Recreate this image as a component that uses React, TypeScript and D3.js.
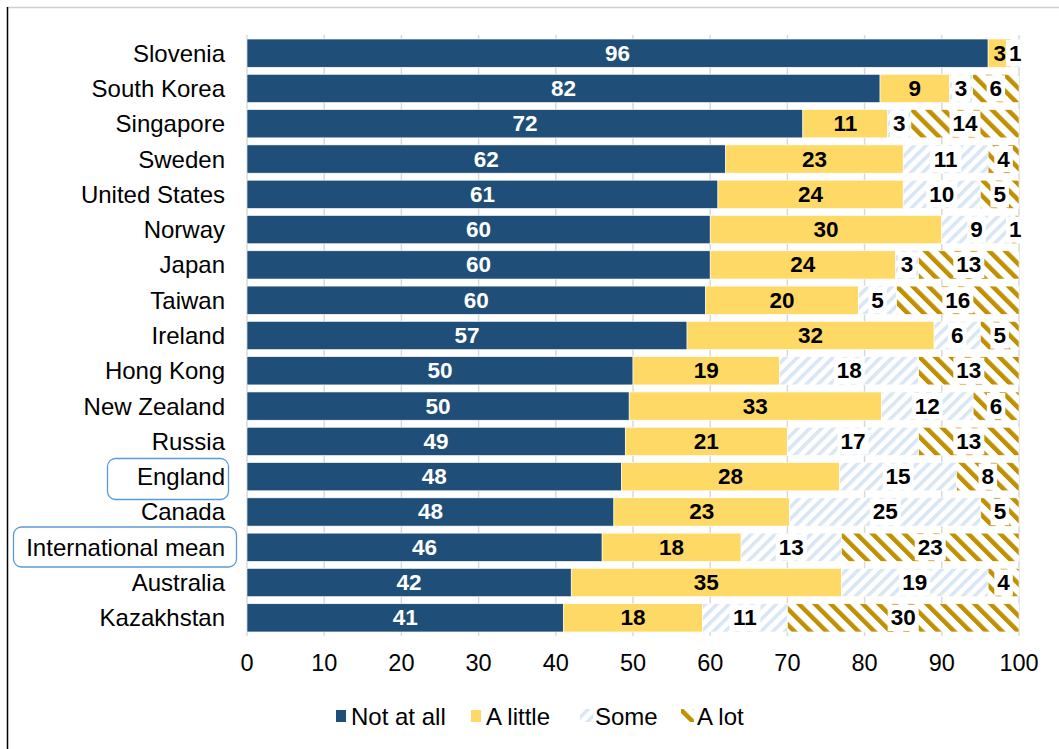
import React from "react";
import * as d3 from "d3";

const categories = [
  "Slovenia", "South Korea", "Singapore", "Sweden", "United States", "Norway", "Japan",
  "Taiwan", "Ireland", "Hong Kong", "New Zealand", "Russia", "England", "Canada",
  "International mean", "Australia", "Kazakhstan",
];
const notAtAll = [96, 82, 72, 62, 61, 60, 60, 60, 57, 50, 50, 49, 48, 48, 46, 42, 41];
const aLittle = [3, 9, 11, 23, 24, 30, 24, 20, 32, 19, 33, 21, 28, 23, 18, 35, 18];
const some = [1, 3, 3, 11, 10, 9, 3, 5, 6, 18, 12, 17, 15, 25, 13, 19, 11];
const aLot = [0, 6, 14, 4, 5, 1, 13, 16, 5, 13, 6, 13, 8, 5, 23, 4, 30];
const seriesNames = ["Not at all", "A little", "Some", "A lot"];
const xTicks = [0, 10, 20, 30, 40, 50, 60, 70, 80, 90, 100];

const FONT = "Arial, 'Liberation Sans', sans-serif";
const W = 1059;
const H = 749;

export default function App() {
  const x = d3.scaleLinear().domain([0, 100]).range([247, 1019]);
  const y = d3.scaleBand().domain(categories).range([35.5, 635.5]).paddingInner(0.2).paddingOuter(0.1);
  const series = [notAtAll, aLittle, some, aLot];
  const fills = ["#1f4e79", "#ffd966", "url(#patSome)", "url(#patLot)"];
  const labelColors = ["#ffffff", "#000000", "#000000", "#000000"];

  const rows = categories.map((c, i) => {
    const vals = series.map((s) => s[i]);
    const total = d3.sum(vals);
    let acc = 0;
    const segs = vals.map((v, k) => {
      const x0 = (acc / total) * 100;
      acc += v;
      const x1 = (acc / total) * 100;
      return { k, v, x0, x1 };
    });
    return { c, segs };
  });

  const bw = y.bandwidth();
  const legendX = [336, 471, 578, 681];
  const legendY = 716;

  return (
    <div style={{ position: "absolute", left: 0, top: 0 }}>
      <svg width={W} height={H} style={{ display: "block", fontFamily: FONT }}>
        <defs>
          <pattern id="patSome" patternUnits="userSpaceOnUse" width={8.4} height={8.4} patternTransform="rotate(45)">
            <rect width={8.4} height={8.4} fill="#ffffff" />
            <rect x={0} y={0} width={3.6} height={8.4} fill="#d9e7f5" />
          </pattern>
          <pattern id="patLot" patternUnits="userSpaceOnUse" width={11.3} height={11.3} patternTransform="rotate(-45)">
            <rect width={11.3} height={11.3} fill="#ffffff" />
            <rect x={0} y={0} width={4.5} height={11.3} fill="#bf9000" />
          </pattern>
        </defs>
        <rect width={W} height={H} fill="#ffffff" />
        <line x1={7.5} x2={W} y1={7.5} y2={7.5} stroke="#cfcfcf" strokeWidth={1.5} />
        <line x1={7.5} x2={7.5} y1={7} y2={H} stroke="#000000" strokeWidth={1.5} />

        {xTicks.map((t) => (
          <line key={"g" + t} x1={x(t)} x2={x(t)} y1={35} y2={636} stroke="#d9d9d9" strokeWidth={1.5} />
        ))}

        {rows.map((r) => (
          <g key={r.c}>
            {r.segs.map((s) =>
              s.v > 0 ? (
                <rect
                  key={s.k}
                  x={x(s.x0)}
                  y={y(r.c)}
                  width={x(s.x1) - x(s.x0)}
                  height={bw}
                  fill={fills[s.k]}
                  stroke="#ffffff"
                  strokeWidth={0.6}
                />
              ) : null
            )}
            {r.segs.map((s) => {
              if (s.v <= 0) return null;
              const cx = x((s.x0 + s.x1) / 2);
              const cy = (y(r.c) as number) + bw / 2;
              const txt = String(s.v);
              const tw = txt.length * 12.5;
              return (
                <g key={"l" + s.k}>
                  {s.k >= 2 ? (
                    <rect x={cx - tw / 2 - 3} y={(y(r.c) as number) + 1} width={tw + 6} height={bw - 2} fill="#ffffff" />
                  ) : null}
                  <text
                    x={cx}
                    y={cy}
                    textAnchor="middle"
                    dominantBaseline="central"
                    fontSize={22.5}
                    fontWeight="bold"
                    fill={labelColors[s.k]}
                  >
                    {txt}
                  </text>
                </g>
              );
            })}
          </g>
        ))}

        {categories.map((c) => (
          <text
            key={"c" + c}
            x={225}
            y={(y(c) as number) + bw / 2}
            textAnchor="end"
            dominantBaseline="central"
            fontSize={24}
            fill="#000000"
          >
            {c}
          </text>
        ))}

        <rect x={107.5} y={458.5} width={121} height={41} rx={8} fill="none" stroke="#5b9bd5" strokeWidth={1.3} />
        <rect x={13.5} y={527} width={223} height={40} rx={8} fill="none" stroke="#5b9bd5" strokeWidth={1.3} />

        {xTicks.map((t) => (
          <text key={"t" + t} x={x(t)} y={663} textAnchor="middle" dominantBaseline="central" fontSize={23.5} fill="#000000">
            {t}
          </text>
        ))}

        {seriesNames.map((n, k) => (
          <g key={n}>
            {k < 2 ? (
              <rect x={legendX[k]} y={legendY - 6} width={10} height={12} fill={fills[k]} />
            ) : (
              <rect x={legendX[k] + (k === 2 ? 2 : 0)} y={legendY - 7} width={13} height={13} fill={fills[k]} />
            )}
            <text x={legendX[k] + (k === 2 ? 17 : k === 3 ? 16 : 15)} y={legendY} dominantBaseline="central" fontSize={24} fill="#000000">
              {n}
            </text>
          </g>
        ))}
      </svg>
    </div>
  );
}
